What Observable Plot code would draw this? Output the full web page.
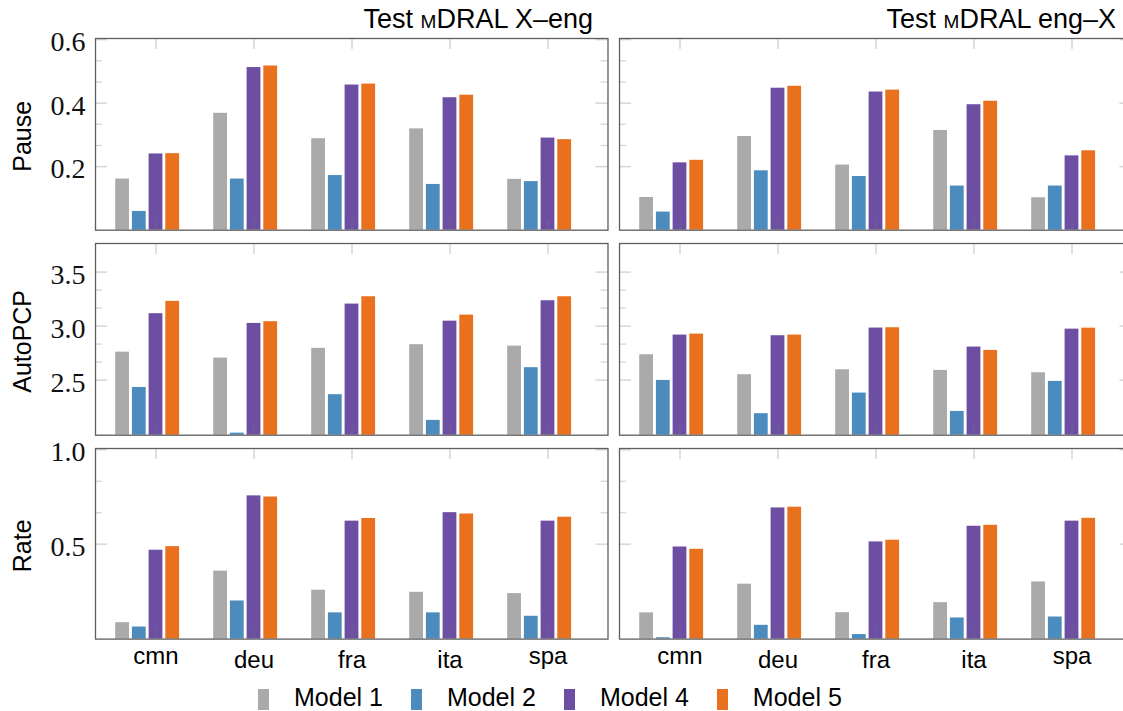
<!DOCTYPE html>
<html><head><meta charset="utf-8">
<script src="https://cdn.jsdelivr.net/npm/d3@7"></script>
<script src="https://cdn.jsdelivr.net/npm/@observablehq/plot@0.6"></script>
<style>
html,body{margin:0;padding:0;background:#fff;overflow:hidden}
#root{position:relative;width:1123px;height:711px;overflow:hidden;font-family:"Liberation Sans",Arial,sans-serif}
#root svg{max-width:none !important;background:transparent !important;overflow:visible}
.panel{position:absolute}
.title{position:absolute;font-size:27px;line-height:27px;white-space:nowrap;color:#000}
.sc{font-variant:small-caps}
#legend{position:absolute;left:258px;top:686.5px}
#legend .lg-swatches-wrap{min-height:0 !important;margin:0 !important;display:flex;align-items:flex-start}
#legend .lg-swatches{font-family:"Liberation Sans",Arial,sans-serif !important;font-size:25px !important;color:#000}
#legend .lg-swatch{margin-right:28px !important;line-height:21px;align-items:flex-start !important}
#legend .lg-swatch>svg{margin-right:25px !important;margin-top:2.5px}
</style></head><body><div id="root"></div>
<script>
// ---------- data ----------
const languages = ["cmn", "deu", "fra", "ita", "spa"];
const models = ["Model 1", "Model 2", "Model 4", "Model 5"];
const modelColors = ["#aaaaaa", "#4b8bbe", "#6c4ea3", "#e9711d"];
const directions = ["X–eng", "eng–X"];
const metricLabels = ["Pause", "AutoPCP", "Rate"];

// rows: Model 1, Model 2, Model 4, Model 5 ; columns: cmn, deu, fra, ita, spa
const pauseXEng = [
  [0.161, 0.368, 0.288, 0.319, 0.160],
  [0.059, 0.161, 0.172, 0.144, 0.153],
  [0.240, 0.512, 0.457, 0.417, 0.290],
  [0.241, 0.517, 0.460, 0.425, 0.285]
];
const pauseEngX = [
  [0.103, 0.295, 0.205, 0.314, 0.102],
  [0.057, 0.187, 0.169, 0.139, 0.139],
  [0.212, 0.447, 0.435, 0.395, 0.234],
  [0.220, 0.453, 0.441, 0.406, 0.250]
];
const autopcpXEng = [
  [2.759, 2.704, 2.794, 2.828, 2.815],
  [2.432, 2.009, 2.365, 2.127, 2.615],
  [3.115, 3.025, 3.204, 3.046, 3.235],
  [3.229, 3.041, 3.272, 3.102, 3.272]
];
const autopcpEngX = [
  [2.735, 2.550, 2.596, 2.590, 2.568],
  [2.497, 2.189, 2.380, 2.210, 2.488],
  [2.917, 2.911, 2.982, 2.806, 2.972],
  [2.926, 2.917, 2.985, 2.775, 2.981]
];
const rateXEng = [
  [0.084, 0.357, 0.256, 0.245, 0.238],
  [0.061, 0.199, 0.136, 0.136, 0.118],
  [0.468, 0.756, 0.622, 0.667, 0.622],
  [0.487, 0.750, 0.636, 0.660, 0.643]
];
const rateEngX = [
  [0.136, 0.288, 0.137, 0.190, 0.300],
  [0.004, 0.070, 0.021, 0.109, 0.114],
  [0.485, 0.692, 0.512, 0.595, 0.622],
  [0.473, 0.696, 0.521, 0.600, 0.637]
];

const pauseTicks = [0.2, 0.4, 0.6];
const autopcpTicks = [2.5, 3.0, 3.5];
const rateTicks = [0.5, 1.0];

// ---------- layout / style ----------
const FRAME_W = 512.5;
const COL_LEFT = [95, 619];
const ROWS = [
  {top: 38.3, h: 191.7, domain: [0, 0.6035], ticks: pauseTicks, label: metricLabels[0], values: [pauseXEng, pauseEngX]},
  {top: 243.3, h: 191.7, domain: [1.99, 3.765], ticks: autopcpTicks, label: metricLabels[1], values: [autopcpXEng, autopcpEngX]},
  {top: 447.7, h: 190.6, domain: [-0.003, 1.007], ticks: rateTicks, label: metricLabels[2], values: [rateXEng, rateEngX]}
];
const PAD_IN = 0.152, PAD_OUT = 0.178;
const TICK = "#d6d6d6";
const FRAME = "#5e5e5e";

const root = document.getElementById("root");
const fmt = d3.format(".1f");
const canvas = document.createElement("canvas");
const ctx = canvas.getContext("2d");

function makePanel(row, col, isBottom) {
  const left = col === 0;
  const mL = left ? COL_LEFT[0] : 2, mR = 2, mT = 24, mB = isBottom ? 60 : 24;
  const W = FRAME_W, H = row.h;
  const step = W / (languages.length - PAD_IN + 2 * PAD_OUT);
  const bw = step * (1 - PAD_IN);
  const slot = bw / 5;
  const matrix = row.values[col];
  const table = models.flatMap((m, k) => languages.map((lang, j) => ({model: m, lang, value: matrix[k][j]})));
  const minors = d3.pairs(row.ticks).flatMap(([a, b]) => [a + (b - a) / 3, a + 2 * (b - a) / 3]);
  const marks = [];
  // y ticks (inward, both sides)
  marks.push(Plot.tickY(row.ticks, {y: d => d, stroke: TICK, strokeWidth: 1.5, insetRight: W - 12}));
  marks.push(Plot.tickY(row.ticks, {y: d => d, stroke: TICK, strokeWidth: 1.5, insetLeft: W - 12}));
  marks.push(Plot.tickY(minors, {y: d => d, stroke: TICK, strokeWidth: 1.3, insetRight: W - 7}));
  marks.push(Plot.tickY(minors, {y: d => d, stroke: TICK, strokeWidth: 1.3, insetLeft: W - 7}));
  // x ticks at top
  marks.push(Plot.tickX(languages, {x: d => d, stroke: TICK, strokeWidth: 1.5, insetBottom: H - 11}));
  // bars
  models.forEach((m, k) => {
    marks.push(Plot.barY(table.filter(d => d.model === m), {
      x: "lang", y1: row.domain[0], y2: "value", fill: modelColors[k],
      insetLeft: k * slot + 1.2, insetRight: (4 - k) * slot + 1.2
    }));
  });
  // x ticks at bottom (over bars)
  marks.push(Plot.tickX(languages, {x: d => d, stroke: "#777", strokeOpacity: 0.35, strokeWidth: 1.5, insetTop: H - 10}));
  marks.push(Plot.frame({stroke: FRAME, strokeWidth: 1.3}));
  if (left) {
    marks.push(Plot.axisY(row.ticks, {anchor: "left", tickSize: 0, tickPadding: 10, tickFormat: fmt,
      fontFamily: "Liberation Serif", fontSize: 28, dy: 2.5, label: null, fill: "#111"}));
    marks.push(Plot.text([row.label], {text: d => d, frameAnchor: "left", textAnchor: "middle", rotate: -90, dx: -65, dy: 2,
      lineAnchor: "bottom", fontSize: 25, fontFamily: "Liberation Sans", fill: "#000"}));
  }
  if (isBottom) {
    marks.push(Plot.axisX(languages, {anchor: "bottom", tickSize: 0, tickPadding: 11.5, fontSize: 24,
      fontFamily: "Liberation Sans", label: null, fill: "#000"}));
  }
  const svg = Plot.plot({
    width: mL + W + mR, height: mT + H + mB,
    marginLeft: mL, marginRight: mR, marginTop: mT, marginBottom: mB,
    x: {type: "band", domain: languages, paddingInner: PAD_IN, paddingOuter: PAD_OUT, ...(isBottom ? {} : {axis: null})},
    y: {domain: row.domain, ...(left ? {} : {axis: null})},
    marks
  });
  svg.classList.add("panel");
  svg.style.left = (left ? 0 : COL_LEFT[1] - 2) + "px";
  svg.style.top = (row.top - mT) + "px";
  root.appendChild(svg);
  if (isBottom) {
    ctx.font = "24px 'Liberation Sans'";
    svg.querySelectorAll('g[aria-label="x-axis tick label"] text').forEach(t => {
      const asc = ctx.measureText(t.textContent).actualBoundingBoxAscent;
      t.setAttribute("y", asc.toFixed(2) + "px");
    });
  }
}

ROWS.forEach((row, r) => {
  [0, 1].forEach(c => makePanel(row, c, r === ROWS.length - 1));
});

// titles
[[530, directions[0]], [7, directions[1]]].forEach(([right, dir]) => {
  const d = document.createElement("div");
  d.className = "title";
  d.style.right = right + "px";
  d.style.top = "5.5px";
  d.innerHTML = 'Test <span class="sc">m</span>DRAL ' + dir;
  root.appendChild(d);
});

// legend
const leg = Plot.legend({
  color: {type: "ordinal", domain: models, range: modelColors},
  legend: "swatches", swatchWidth: 11, swatchHeight: 21, className: "lg"
});
const legWrap = document.createElement("div");
legWrap.id = "legend";
legWrap.appendChild(leg);
root.appendChild(legWrap);
</script>
</body></html>
